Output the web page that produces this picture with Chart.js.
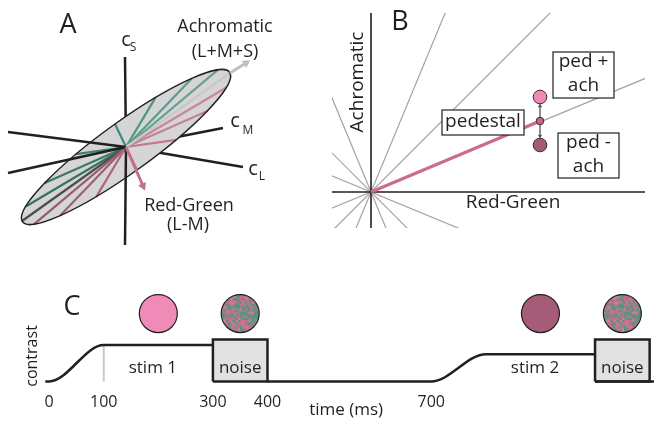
<!DOCTYPE html>
<html>
<head>
<meta charset="utf-8">
<script src="https://cdn.jsdelivr.net/npm/chart.js@4.4.0/dist/chart.umd.min.js"></script>
<style>
  body { margin: 0; background: #fff; width: 654px; height: 426px; position: relative; overflow: hidden; }
  canvas { position: absolute; }
</style>
</head>
<body>
<canvas id="panelA" width="320" height="250" style="left:0;top:0"></canvas>
<canvas id="panelB" width="334" height="240" style="left:320px;top:0"></canvas>
<canvas id="panelC" width="654" height="156" style="left:0;top:272px"></canvas>
<script>
// ---- panel A: cone contrast space (origin = centre of the disc) ----
const achromaticRadius = [104, 74];   // conjugate radius along L+M+S
const redGreenRadius = [11, -23];     // conjugate radius along L-M
const spokeAngles = [0, 22.5, 45, 67.5, 90, 112.5, 135, 157.5, 180, 202.5, 225, 247.5, 270, 292.5, 315, 337.5];
const axisS = [[-1, 90], [-1, -98]];
const axisM = [[97, 19], [-118, -26]];
const axisL = [[117, -20], [-118, 15]];
const achromaticArrow = [120, 84];
const redGreenArrow = [17, -39];

// ---- panel B: red-green / achromatic plane ----
const rayAngles = [22.5, 45, 67.5, 112.5, 135, 157.5];
const rgExtent = [-39, 274];
const achExtent = [-36, 179];
const pedestal = [169, 71];
const achStep = 24;

// ---- panel C: trial timeline (ms, contrast) ----
const stim1Time = [-7, 0, 100, 300];
const stim1Contrast = [0, 0, 1, 1];
const stim2Time = [400, 700, 800, 1000];
const stim2Contrast = [0, 0, 0.75, 0.75];
const baselineTime = [1000, 1110];
const noiseOn = [300, 1000];
const noiseOff = [400, 1100];
const noiseLevel = 1.15;
const iconTimes = [200, 350, 900, 1050];
const iconLevel = 1.86;
const iconKinds = ['ped+ach', 'noise', 'ped-ach', 'noise'];
const timeTicks = [0, 100, 300, 400, 700];

const FONT = '"Open Sans", sans-serif';
const INK = '#231f20';
Chart.defaults.font.family = FONT;
Chart.defaults.color = INK;

const pts = (xs, ys) => xs.map((x, i) => ({x: x, y: ys[i]}));
const seg = (a, b) => [{x: a[0], y: a[1]}, {x: b[0], y: b[1]}];
const rad = d => d * Math.PI / 180;

function line(data, extra) {
  return Object.assign({data: data, showLine: true, pointRadius: 0, borderColor: INK,
    borderWidth: 2.5, fill: false}, extra);
}

function arrow(data, color, width, head) {
  const a = data[0], b = data[1];
  const rot = Math.atan2(b.x - a.x, b.y - a.y) * 180 / Math.PI;
  return line(data, {borderColor: color, borderWidth: width, pointRadius: [0, head],
    pointStyle: 'triangle', pointRotation: rot, pointBackgroundColor: color,
    pointBorderColor: color, pointBorderWidth: 0});
}

function mix(a, b, t) {
  const pa = parseInt(a.slice(1), 16), pb = parseInt(b.slice(1), 16);
  const ch = s => Math.round(((pa >> s) & 255) * (1 - t) + ((pb >> s) & 255) * t);
  return `rgb(${ch(16)},${ch(8)},${ch(0)})`;
}

function labelPlugin(items, boxes) {
  return {
    id: 'labels',
    afterDatasetsDraw(chart) {
      const {ctx} = chart;
      const x = chart.scales.x, y = chart.scales.y;
      ctx.save();
      ctx.textAlign = 'center';
      ctx.textBaseline = 'middle';
      for (const b of boxes || []) {
        const l = x.getPixelForValue(b.x0), r = x.getPixelForValue(b.x1);
        const t = y.getPixelForValue(b.y1), btm = y.getPixelForValue(b.y0);
        ctx.fillStyle = '#fff';
        ctx.fillRect(l, t, r - l, btm - t);
        ctx.strokeStyle = INK;
        ctx.lineWidth = 1.2;
        ctx.strokeRect(l, t, r - l, btm - t);
        ctx.fillStyle = INK;
        ctx.font = `19px ${FONT}`;
        const cx = (l + r) / 2, cy = (t + btm) / 2;
        const n = b.lines.length;
        b.lines.forEach((s, i) => ctx.fillText(s, cx, cy + (i - (n - 1) / 2) * 24 - 1));
      }
      ctx.fillStyle = INK;
      for (const t of items) {
        ctx.font = `${t.size}px ${FONT}`;
        const px = x.getPixelForValue(t.x), py = y.getPixelForValue(t.y);
        if (t.rotate) {
          ctx.save();
          ctx.translate(px, py);
          ctx.rotate(rad(t.rotate));
          ctx.fillText(t.text, 0, 0);
          ctx.restore();
        } else {
          ctx.fillText(t.text, px, py);
        }
      }
      ctx.restore();
    }
  };
}

const baseOptions = (xr, yr, padding) => ({
  responsive: false,
  animation: false,
  events: [],
  layout: {padding: padding, autoPadding: false},
  plugins: {legend: {display: false}, tooltip: {enabled: false}},
  scales: {
    x: {type: 'linear', display: false, min: xr[0], max: xr[1]},
    y: {type: 'linear', display: false, min: yr[0], max: yr[1]}
  }
});

// ---------------- panel A ----------------
function spokeEnd(deg) {
  const c = Math.cos(rad(deg)), s = Math.sin(rad(deg));
  return {x: c * achromaticRadius[0] + s * redGreenRadius[0], y: c * achromaticRadius[1] + s * redGreenRadius[1]};
}
function spokeColor(deg) {
  const c = Math.cos(rad(deg)), s = Math.sin(rad(deg));
  if (Math.abs(s) < 1e-6) return c > 0 ? '#c8c8c8' : '#4d4d4d';
  const base = s > 0 ? '#c06e88' : '#3e8e76';
  return c > 0 ? mix(base, '#d0d0d0', 0.3 * c) : mix(base, '#2a2a2a', 0.3 * -c);
}

const ellipsePlugin = {
  id: 'disc',
  beforeDatasetDraw(chart, args) {
    const mode = chart.data.datasets[args.index].disc;
    if (!mode) return;
    const {ctx} = chart;
    const x = chart.scales.x, y = chart.scales.y;
    const cx = x.getPixelForValue(0), cy = y.getPixelForValue(0);
    const px = x.getPixelForValue(achromaticRadius[0]) - cx, py = y.getPixelForValue(achromaticRadius[1]) - cy;
    const qx = x.getPixelForValue(redGreenRadius[0]) - cx, qy = y.getPixelForValue(redGreenRadius[1]) - cy;
    ctx.save();
    ctx.beginPath();
    ctx.save();
    ctx.transform(px, py, qx, qy, cx, cy);
    ctx.arc(0, 0, 1, 0, Math.PI * 2);
    ctx.restore();
    if (mode === 'fill') {
      ctx.fillStyle = '#d5d5d7';
      ctx.fill();
    } else {
      ctx.strokeStyle = INK;
      ctx.lineWidth = 1.5;
      ctx.stroke();
    }
    ctx.restore();
  }
};

const origin = [0, 0];
const dsA = [];
// back halves of the cone axes
dsA.push(line(seg(origin, axisS[0]), {order: 4}));
dsA.push(line(seg(origin, axisM[0]), {order: 4}));
dsA.push(line(seg(origin, axisL[0]), {order: 4}));
dsA.push({data: [], disc: 'fill', order: 3.5});
for (const a of spokeAngles) {
  const e = spokeEnd(a);
  dsA.push(line([{x: 0, y: 0}, e], {borderColor: spokeColor(a), borderWidth: 2.2, order: 3}));
}
// front halves
dsA.push(line(seg(origin, axisS[1]), {order: 2}));
dsA.push(line(seg(origin, axisM[1]), {order: 2}));
dsA.push(line(seg(origin, axisL[1]), {order: 2}));
dsA.push({data: [], disc: 'stroke', order: 1.5});
dsA.push(Object.assign(arrow(seg(achromaticRadius, achromaticArrow), '#bfbfbf', 3, 5), {order: 1}));
dsA.push(Object.assign(arrow(seg(origin, redGreenArrow), '#c27089', 3, 5), {order: 1}));

new Chart('panelA', {
  type: 'scatter',
  data: {datasets: dsA},
  options: baseOptions([-126, 194], [-103, 147], 0),
  plugins: [ellipsePlugin, labelPlugin([
    {text: 'A', x: -58, y: 122, size: 27},
    {text: 'Achromatic', x: 99, y: 120, size: 18},
    {text: '(L+M+S)', x: 99, y: 95, size: 18},
    {text: 'Red-Green', x: 63, y: -59, size: 18},
    {text: '(L-M)', x: 62, y: -78, size: 18},
    {text: 'c', x: 0, y: 107, size: 20},
    {text: 'S', x: 7, y: 99, size: 12},
    {text: 'c', x: 109, y: 26, size: 20},
    {text: 'M', x: 122, y: 16, size: 12},
    {text: 'c', x: 127, y: -22, size: 20},
    {text: 'L', x: 136, y: -30, size: 12}
  ])]
});

// ---------------- panel B ----------------
const dsB = [];
for (const a of rayAngles) {
  const c = Math.cos(rad(a)) * 600, s = Math.sin(rad(a)) * 600;
  dsB.push(line([{x: -c, y: -s}, {x: c, y: s}], {borderColor: '#a3a3a3', borderWidth: 1.2, order: 5}));
}
dsB.push(line(pts(rgExtent, [0, 0]), {borderWidth: 1.6, order: 4}));
dsB.push(line(pts([0, 0], achExtent), {borderWidth: 1.6, order: 4}));
dsB.push(line(seg(origin, pedestal), {borderColor: '#cc6c8d', borderWidth: 3, order: 3}));
dsB.push(Object.assign(arrow(seg([pedestal[0], pedestal[1] + 4], [pedestal[0], pedestal[1] + achStep - 9]), '#555', 1.3, 2.5), {order: 2}));
dsB.push(Object.assign(arrow(seg([pedestal[0], pedestal[1] - 4], [pedestal[0], pedestal[1] - achStep + 9]), '#555', 1.3, 2.5), {order: 2}));
dsB.push({data: pts([pedestal[0], pedestal[0], pedestal[0]], [pedestal[1] + achStep, pedestal[1], pedestal[1] - achStep]),
  pointRadius: [6.8, 3.8, 6.8], pointBackgroundColor: ['#ef8ab5', '#c4668a', '#a45b76'],
  pointBorderColor: '#3a2a30', pointBorderWidth: 1, order: 1});

new Chart('panelB', {
  type: 'scatter',
  data: {datasets: dsB},
  options: baseOptions(rgExtent, achExtent, {left: 12, right: 9, top: 13, bottom: 12}),
  plugins: [labelPlugin([
    {text: 'B', x: 29, y: 170, size: 27},
    {text: 'Achromatic', x: -13, y: 110, size: 19, rotate: -90},
    {text: 'Red-Green', x: 142, y: -11, size: 19}
  ], [
    {x0: 71, x1: 153, y0: 57, y1: 82, lines: ['pedestal']},
    {x0: 182, x1: 243, y0: 94, y1: 140, lines: ['ped +', 'ach']},
    {x0: 187, x1: 248, y0: 14, y1: 59, lines: ['ped -', 'ach']}
  ])]
});

// ---------------- panel C ----------------
function cellHash(i, j) {
  let h = Math.imul(i, 374761393) + Math.imul(j, 668265263) | 0;
  h = Math.imul(h ^ (h >>> 13), 1274126177);
  return ((h ^ (h >>> 16)) >>> 0) / 4294967296;
}
function noisePattern(ctx) {
  const n = 24;
  const cells = document.createElement('canvas');
  cells.width = n; cells.height = n;
  const c = cells.getContext('2d');
  const palette = ['#d3688f', '#3f9a7e', '#c9708f', '#4f9883', '#b27b8b', '#e07a9e', '#8a8587'];
  for (let i = 0; i < n; i++) {
    for (let j = 0; j < n; j++) {
      c.fillStyle = palette[Math.floor(cellHash(i + 7, j + 3) * palette.length)];
      c.fillRect(i, j, 1, 1);
    }
  }
  const off = document.createElement('canvas');
  off.width = n * 2; off.height = n * 2;
  const o = off.getContext('2d');
  o.imageSmoothingEnabled = true;
  o.drawImage(cells, 0, 0, n * 2, n * 2);
  return ctx.createPattern(off, 'repeat');
}
const ctxC = document.getElementById('panelC').getContext('2d');
const noiseFill = noisePattern(ctxC);
const iconColor = {'ped+ach': '#f08bb7', 'ped-ach': '#a55c78', 'noise': noiseFill};

const dsC = [];
noiseOn.forEach((t0, i) => {
  const t1 = noiseOff[i];
  dsC.push(line(pts([t0, t0, t1, t1, t0], [0, noiseLevel, noiseLevel, 0, 0]),
    {fill: 'shape', backgroundColor: '#e1e1e1', order: 2}));
});
dsC.push(line(pts([100, 100], [0, 1]), {borderColor: '#c8c8c8', borderWidth: 2, order: 3}));
dsC.push(line(pts(stim1Time, stim1Contrast), {cubicInterpolationMode: 'monotone', order: 1}));
dsC.push(line(pts(stim2Time, stim2Contrast), {cubicInterpolationMode: 'monotone', order: 1}));
dsC.push(line(pts(baselineTime, [0, 0]), {order: 1}));
dsC.push({data: iconTimes.map(t => ({x: t, y: iconLevel})), pointRadius: 19,
  pointBackgroundColor: iconKinds.map(k => iconColor[k]), pointBorderColor: INK,
  pointBorderWidth: 1.2, order: 0});

const optC = baseOptions([-90, 1108], [-0.2, 3.0], {bottom: 12});
optC.scales.x = {
  type: 'linear', min: -90, max: 1108,
  grid: {display: false, drawTicks: false},
  border: {display: false},
  afterBuildTicks: s => { s.ticks = timeTicks.map(v => ({value: v})); },
  ticks: {padding: 4, font: {size: 16}, color: INK, autoSkip: false, maxRotation: 0}
};

new Chart('panelC', {
  type: 'scatter',
  data: {datasets: dsC},
  options: optC,
  plugins: [labelPlugin([
    {text: 'C', x: 42, y: 2.04, size: 27},
    {text: 'stim 1', x: 190, y: 0.37, size: 17},
    {text: 'noise', x: 350, y: 0.37, size: 17},
    {text: 'stim 2', x: 890, y: 0.37, size: 17},
    {text: 'noise', x: 1050, y: 0.37, size: 17},
    {text: 'contrast', x: -31, y: 0.7, size: 16, rotate: -90},
    {text: 'time (ms)', x: 544, y: -0.79, size: 17}
  ])]
});
</script>
</body>
</html>
